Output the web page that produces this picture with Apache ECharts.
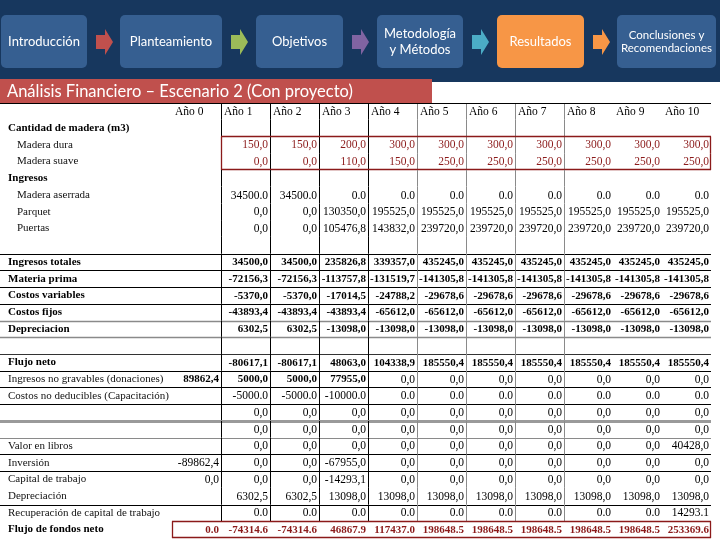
<!DOCTYPE html>
<html><head><meta charset="utf-8">
<script src="https://cdn.jsdelivr.net/npm/echarts/dist/echarts.min.js"></script>
<style>html,body{margin:0;padding:0;background:#fff}#c{width:720px;height:540px}</style>
</head><body><div id="c"></div>
<script>
// ---------- data ----------
const years = ['Año 0','Año 1','Año 2','Año 3','Año 4','Año 5','Año 6','Año 7','Año 8','Año 9','Año 10'];
const navSteps = ['Introducción','Planteamiento','Objetivos','Metodología\ny Métodos','Resultados','Conclusiones y\nRecomendaciones'];
const slideTitle = 'Análisis Financiero – Escenario 2 (Con proyecto)';
const rowLabels = ['', 'Cantidad de madera (m3)', 'Madera dura', 'Madera suave', 'Ingresos', 'Madera aserrada', 'Parquet', 'Puertas', ' ',
  'Ingresos totales', 'Materia prima', 'Costos variables', 'Costos fijos', 'Depreciacion', '  ',
  'Flujo neto', 'Ingresos no gravables (donaciones)', 'Costos no deducibles (Capacitación)', '   ', '    ',
  'Valor en libros', 'Inversión', 'Capital de trabajo', 'Depreciación', 'Recuperación de capital de trabajo', 'Flujo de fondos neto'];
const maderaDura      = [null,150,150,200,300,300,300,300,300,300,300];
const maderaSuave     = [null,0,0,110,150,250,250,250,250,250,250];
const maderaAserrada  = [null,34500,34500,0,0,0,0,0,0,0,0];
const parquet         = [null,0,0,130350,195525,195525,195525,195525,195525,195525,195525];
const puertas         = [null,0,0,105476.8,143832,239720,239720,239720,239720,239720,239720];
const ingresosTotales = [null,34500,34500,235826.8,339357,435245,435245,435245,435245,435245,435245];
const materiaPrima    = [null,-72156.3,-72156.3,-113757.8,-131519.7,-141305.8,-141305.8,-141305.8,-141305.8,-141305.8,-141305.8];
const costosVariables = [null,-5370,-5370,-17014.5,-24788.2,-29678.6,-29678.6,-29678.6,-29678.6,-29678.6,-29678.6];
const costosFijos     = [null,-43893.4,-43893.4,-43893.4,-65612,-65612,-65612,-65612,-65612,-65612,-65612];
const depreciacion1   = [null,6302.5,6302.5,-13098,-13098,-13098,-13098,-13098,-13098,-13098,-13098];
const flujoNeto       = [null,-80617.1,-80617.1,48063,104338.9,185550.4,185550.4,185550.4,185550.4,185550.4,185550.4];
const ingresosNoGrav  = [89862.4,5000,5000,77955,0,0,0,0,0,0,0];
const costosNoDeduc   = [null,-5000,-5000,-10000,0,0,0,0,0,0,0];
const vacio1          = [null,0,0,0,0,0,0,0,0,0,0];
const vacio2          = [null,0,0,0,0,0,0,0,0,0,0];
const valorLibros     = [null,0,0,0,0,0,0,0,0,0,40428];
const inversion       = [-89862.4,0,0,-67955,0,0,0,0,0,0,0];
const capitalTrabajo  = [0,0,0,-14293.1,0,0,0,0,0,0,0];
const depreciacion2   = [null,6302.5,6302.5,13098,13098,13098,13098,13098,13098,13098,13098];
const recuperacion    = [null,0,0,0,0,0,0,0,0,0,14293.1];
const flujoFondos     = [0,-74314.6,-74314.6,46867.9,117437,198648.5,198648.5,198648.5,198648.5,198648.5,253369.6];

const rowValues = [null,null,maderaDura,maderaSuave,null,maderaAserrada,parquet,puertas,null,
  ingresosTotales,materiaPrima,costosVariables,costosFijos,depreciacion1,null,
  flujoNeto,ingresosNoGrav,costosNoDeduc,vacio1,vacio2,valorLibros,inversion,capitalTrabajo,depreciacion2,recuperacion,flujoFondos];

// ---------- styling ----------
const boldLabelRows = [1,4,9,10,11,12,13,15,25];
const indentRows = [2,3,5,6,7];
const boldValueRows = [9,10,11,12,13,15,25];
const periodRows = [5,17,24,25];
const redBoxA = {r0:2, r1:3, c0:1, c1:10};
const redBoxB = {r0:25, r1:25, c0:0, c1:10};
const bottomBorders = {8:['#000',1],9:['#000',1],10:['#000',1],11:['#000',1],12:['#8a8a8a',1.5],13:['#8a8a8a',1.5],
  14:['#333',1],15:['#000',1],16:['#000',1],17:['#000',1],18:['#9a9a9a',3],19:['#8a8a8a',1],20:['#000',1],21:['#000',1],23:['#000',1]};
const RED = '#8b1a1a';
const SERIF = '"Liberation Serif","Times New Roman",serif';
const FS = 11.5, FSB = 11, FSL = 11;

function fmt(v, sep){ return v.toFixed(1).replace('.', sep); }
function inBox(b,c,r){ return r>=b.r0 && r<=b.r1 && c>=b.c0 && c<=b.c1; }

const cellData = [], cellText = [];
for (let r = 0; r < rowLabels.length; r++) {
  for (let c = 0; c < years.length; c++) {
    let t = '';
    if (r === 0) t = years[c];
    else if (rowValues[r] && rowValues[r][c] != null) t = fmt(rowValues[r][c], periodRows.includes(r) ? '.' : ',');
    cellData.push([c, r]);
    cellText.push(t);
  }
}

const P = v => Math.round(v) + 0.5;

function renderCell(params, api) {
  const c = api.value(0), r = api.value(1);
  const ctr = api.coord([c, r]);
  const sz = api.size([1, 1]);
  const x0 = ctr[0] - sz[0]/2, x1 = ctr[0] + sz[0]/2, y0 = ctr[1] - sz[1]/2, y1 = ctr[1] + sz[1]/2;
  const ch = [];
  const line = (ax, ay, bx, by, col, w) => ch.push({type:'line', shape:{x1:ax,y1:ay,x2:bx,y2:by}, style:{stroke:col, lineWidth:w}});
  const lx = c === 0 ? 0 : x0;
  if (r === 0) line(lx, P(y0), x1, P(y0), '#000', 1.2);
  if (c <= 7 && r <= 24) line(P(x1), y0, P(x1), y1, c <= 3 ? '#000' : '#8a8a8a', 1);
  const bb = bottomBorders[r];
  if (bb) line(lx, P(y1), x1, P(y1), bb[0], bb[1]);
  [redBoxA, redBoxB].forEach(b => {
    if (!inBox(b, c, r)) return;
    if (r === b.r0) line(x0, P(y0), x1, P(y0), RED, 1.3);
    if (r === b.r1) line(x0, P(y1) - 1, x1, P(y1) - 1, RED, 1.3);
    if (c === b.c0) line(P(x0), y0, P(x0), y1, RED, 1.3);
    if (c === b.c1) line(P(x1) - 1, y0, P(x1) - 1, y1, RED, 1.3);
  });
  const t = cellText[params.dataIndex];
  if (t) {
    const bold = boldValueRows.includes(r) || (r === 16 && c <= 3);
    const red = inBox(redBoxA, c, r) || inBox(redBoxB, c, r);
    ch.push({type:'text', style:{
      text: t, x: r === 0 ? x0 + 3 : x1 - 2, y: ctr[1] + 0.5,
      align: r === 0 ? 'left' : 'right', verticalAlign: 'middle',
      font: (bold ? 'bold ' + FSB : FS) + 'px ' + SERIF, fill: red ? RED : '#000'
    }});
  }
  return {type:'group', children: ch};
}

// ---------- navigation + title graphics ----------
const boxes = [[1,87],[120,222],[256,343],[377,463],[497,584],[617,716]];
const arrowColors = ['#c0504d','#9bbb59','#8064a2','#4bacc6','#f79646'];
const graphics = [{type:'rect', shape:{x:0,y:0,width:720,height:82}, style:{fill:'#17375e'}, z:0}];
boxes.forEach((b, i) => {
  graphics.push({type:'rect', shape:{x:b[0], y:15, width:b[1]-b[0], height:53, r:5},
    style:{fill: i === 4 ? '#f79646' : '#365f91'}, z:1});
  const small = i === 5;
  graphics.push({type:'text', x:(b[0]+b[1])/2, y:42, z:2, style:{text:navSteps[i], align:'center', verticalAlign:'middle',
    fill:'#fff', font:(small?'11.5px ':'13px ') + 'Lato, "Open Sans", sans-serif', lineHeight: small ? 13 : 16}});
  if (i < 5) {
    const a = b[1] + 9;
    graphics.push({type:'polygon', z:1, shape:{points:[[a,35],[a+9,35],[a+9,29],[a+17,42],[a+9,55],[a+9,49],[a,49]]},
      style:{fill:arrowColors[i]}});
  }
});
graphics.push({type:'rect', shape:{x:0,y:79,width:432,height:24}, style:{fill:'#c0504d'}, z:3});
graphics.push({type:'text', x:7, y:92, z:4, style:{text:slideTitle, fill:'#fff', verticalAlign:'middle',
  font:'16.5px Lato, "Open Sans", sans-serif'}});

const chart = echarts.init(document.getElementById('c'));
chart.setOption({
  animation:false,
  backgroundColor:'#fff',
  graphic: graphics,
  grid:{left:172, right:9, top:103, bottom:2, containLabel:false},
  xAxis:{type:'category', data:years, show:false},
  yAxis:{type:'category', data:rowLabels, inverse:true,
    axisLine:{show:false}, axisTick:{show:false}, splitLine:{show:false},
    axisLabel:{interval:0, align:'left', margin:164, fontFamily:SERIF, fontSize:FSL, color:'#000',
      formatter:(v, i) => boldLabelRows.includes(i) ? '{b|' + v + '}' : indentRows.includes(i) ? '{i|' + v + '}' : '{n|' + v + '}',
      rich:{b:{fontWeight:'bold', fontFamily:SERIF, fontSize:FSL, color:'#000'},
            i:{padding:[0,0,0,9], fontFamily:SERIF, fontSize:FSL, color:'#111'},
            n:{fontFamily:SERIF, fontSize:FSL, color:'#111'}}}},
  series:[{type:'custom', coordinateSystem:'cartesian2d', data:cellData, encode:{x:0, y:1},
    renderItem:renderCell, clip:false, silent:true}]
});
</script></body></html>
